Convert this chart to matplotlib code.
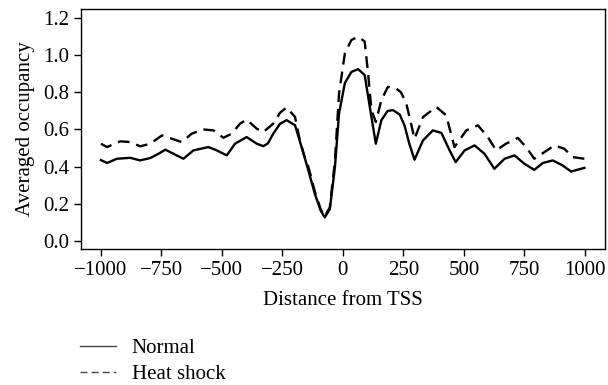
import matplotlib

matplotlib.use("Agg")
import matplotlib.pyplot as plt

# averaged nucleosome occupancy around the TSS
normal_x = [-1000, -975, -934, -879, -838, -796, -762, -734, -693, -659, -618, -556,
            -521, -480, -446, -398, -356, -329, -310, -288, -260, -233, -198, -171,
            -143, -116, -92, -75, -54, -33, -16, 8, 35, 63, 90, 111, 136, 159, 185,
            207, 235, 255, 275, 296, 331, 372, 407, 441, 466, 503, 544, 585, 626,
            668, 709, 750, 791, 826, 867, 908, 943, 998]
normal_y = [0.435, 0.419, 0.442, 0.447, 0.433, 0.446, 0.469, 0.491, 0.464, 0.442,
            0.487, 0.505, 0.487, 0.460, 0.523, 0.559, 0.523, 0.510, 0.525, 0.577,
            0.630, 0.650, 0.623, 0.506, 0.380, 0.253, 0.163, 0.126, 0.171, 0.397,
            0.686, 0.850, 0.910, 0.925, 0.893, 0.722, 0.523, 0.650, 0.700, 0.704,
            0.680, 0.620, 0.520, 0.437, 0.541, 0.595, 0.581, 0.487, 0.424, 0.487,
            0.514, 0.469, 0.388, 0.442, 0.460, 0.415, 0.382, 0.419, 0.433, 0.406,
            0.373, 0.393]

heat_x = [-1000, -975, -920, -879, -838, -796, -748, -707, -666, -625, -577, -535,
          -494, -460, -425, -398, -356, -329, -288, -260, -233, -198, -178, -160,
          -143, -116, -92, -75, -54, -33, -16, 8, 35, 63, 90, 104, 118, 136, 159,
          186, 221, 240, 262, 296, 331, 386, 427, 461, 510, 558, 599, 633, 674,
          723, 757, 791, 833, 874, 915, 949, 998]
heat_y = [0.523, 0.505, 0.536, 0.532, 0.509, 0.523, 0.568, 0.550, 0.532, 0.577,
          0.600, 0.595, 0.555, 0.577, 0.631, 0.653, 0.604, 0.586, 0.631, 0.690,
          0.718, 0.668, 0.541, 0.460, 0.400, 0.265, 0.170, 0.133, 0.180, 0.430,
          0.794, 1.010, 1.082, 1.100, 1.074, 0.902, 0.704, 0.640, 0.758, 0.830,
          0.820, 0.800, 0.740, 0.550, 0.667, 0.721, 0.676, 0.505, 0.595, 0.622,
          0.559, 0.487, 0.523, 0.554, 0.505, 0.442, 0.478, 0.514, 0.496, 0.451,
          0.442]

x_ticks = [-1000, -750, -500, -250, 0, 250, 500, 750, 1000]
y_ticks = [0.0, 0.2, 0.4, 0.6, 0.8, 1.0, 1.2]

plt.rcParams["font.family"] = ["Liberation Serif", "DejaVu Serif"]

fig = plt.figure(figsize=(6.08, 3.85), dpi=100)
ax = fig.add_axes([0.133, 0.353, 0.862, 0.624])

ax.plot(normal_x, normal_y, color="black", linewidth=1.7, label="Normal",
        solid_joinstyle="round")
ax.plot(heat_x, heat_y, color="black", linewidth=1.7, linestyle=(0, (5, 3)),
        label="Heat shock", dash_joinstyle="round")

ax.set_xlim(-1083, 1083)
ax.set_ylim(-0.045, 1.25)
ax.set_xticks(x_ticks)
ax.set_yticks(y_ticks)
ax.set_yticklabels([f"{v:.1f}" for v in y_ticks])
ax.tick_params(labelsize=15, length=5, width=1, colors="black")
for spine in ax.spines.values():
    spine.set_linewidth(1.0)

ax.set_xlabel("Distance from TSS", fontsize=15, labelpad=8)
ax.set_ylabel("Averaged occupancy", fontsize=15, labelpad=6)

handles, labels = ax.get_legend_handles_labels()
leg = fig.legend(handles, labels, loc="upper left", bbox_to_anchor=(0.131, 0.12),
                 frameon=False, fontsize=15, handlelength=1.75, handletextpad=0.75,
                 labelspacing=0.3, borderpad=0, borderaxespad=0)
for line in leg.get_lines():
    line.set_linewidth(1.0)
    line.set_color("#444444")

fig.savefig("out.png", dpi=100, facecolor="white")
plt.close(fig)
